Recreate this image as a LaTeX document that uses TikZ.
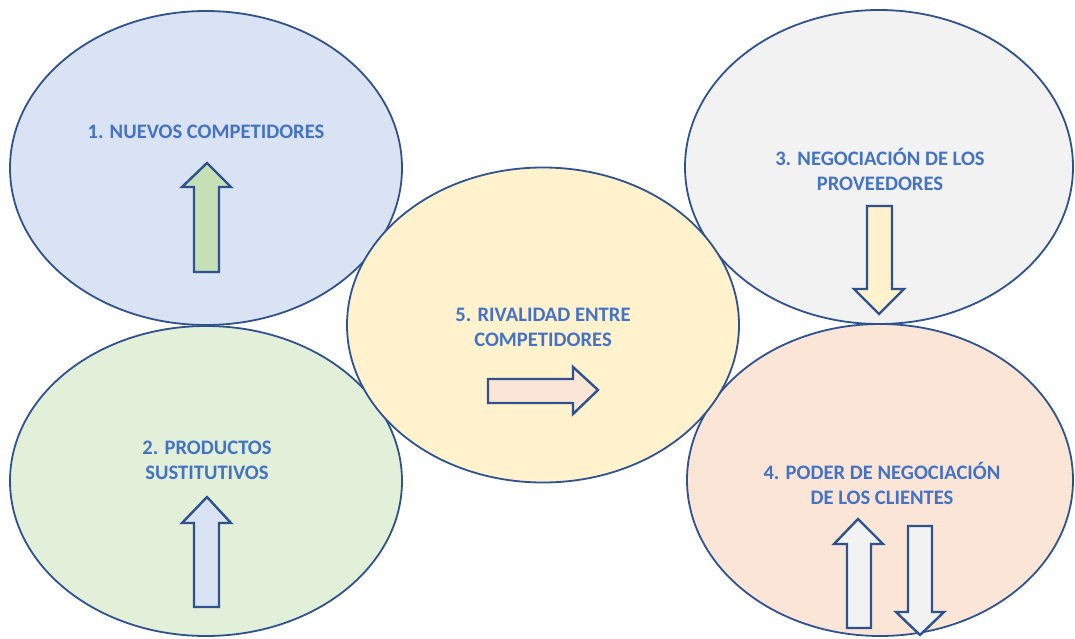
\documentclass[tikz,border=0pt]{standalone}
\usepackage{fontspec}
\setmainfont{Carlito}
\usetikzlibrary{shapes.geometric}
\definecolor{edgeblue}{HTML}{2F528F}
\definecolor{txtblue}{HTML}{4472C4}
\definecolor{fillA}{HTML}{DAE3F3}
\definecolor{fillB}{HTML}{E2F0D9}
\definecolor{fillC}{HTML}{F2F2F2}
\definecolor{fillD}{HTML}{FBE5D6}
\definecolor{fillE}{HTML}{FFF2CC}
\definecolor{fillG}{HTML}{C5E0B4}
\tikzset{
  force/.style={ellipse, draw=edgeblue, line width=1.8pt, inner sep=0pt},
  forcetext/.style={text=txtblue, font=\fontsize{20.6}{25}\selectfont\bfseries, align=center},
  blockarrow/.style={draw=edgeblue, line width=2.4pt, line join=miter},
}
\begin{document}
\begin{tikzpicture}[x=1pt,y=-1pt]
\useasboundingbox (0,0) rectangle (1075,639);
% the five forces
\node[force, fill=fillA, minimum width=392pt, minimum height=314pt] (f1) at (206,168) {};
\node[force, fill=fillB, minimum width=392pt, minimum height=310pt] (f2) at (206,481) {};
\node[force, fill=fillC, minimum width=388pt, minimum height=314pt] (f3) at (879,167) {};
\node[force, fill=fillD, minimum width=386pt, minimum height=312pt] (f4) at (880,480) {};
\node[force, fill=fillE, minimum width=392pt, minimum height=315pt] (f5) at (543,325) {};
% labels
\node[forcetext] (t1) at (206,132) {1. NUEVOS COMPETIDORES};
\node[forcetext] (t2) at (207,460) {2. PRODUCTOS\\SUSTITUTIVOS};
\node[forcetext] (t3) at (880,169) {3. NEGOCIACIÓN DE LOS\\PROVEEDORES};
\node[forcetext] (t4) at (882,483) {4. PODER DE NEGOCIACIÓN\\DE LOS CLIENTES};
\node[forcetext] (t5) at (543,327) {5. RIVALIDAD ENTRE\\COMPETIDORES};
% block arrows
\draw[blockarrow, fill=fillG] (194,272) -- (194,187) -- (182,187) -- (207,163) -- (231,187) -- (219,187) -- (219,272) -- cycle;
\draw[blockarrow, fill=fillA] (194,607) -- (194,523) -- (182,523) -- (207,497) -- (231,523) -- (219,523) -- (219,607) -- cycle;
\draw[blockarrow, fill=fillE] (867,206) -- (867,289) -- (854,289) -- (879,314) -- (904,289) -- (892,289) -- (892,206) -- cycle;
\draw[blockarrow, fill=fillD] (488,379) -- (573,379) -- (573,367) -- (598,390) -- (573,414) -- (573,403) -- (488,403) -- cycle;
\draw[blockarrow, fill=fillC] (847,628) -- (847,544) -- (834,544) -- (858,519) -- (883,544) -- (871,544) -- (871,628) -- cycle;
\draw[blockarrow, fill=fillC] (908,526) -- (908,612) -- (896,612) -- (920,635) -- (944,612) -- (932,612) -- (932,526) -- cycle;
\end{tikzpicture}
\end{document}
